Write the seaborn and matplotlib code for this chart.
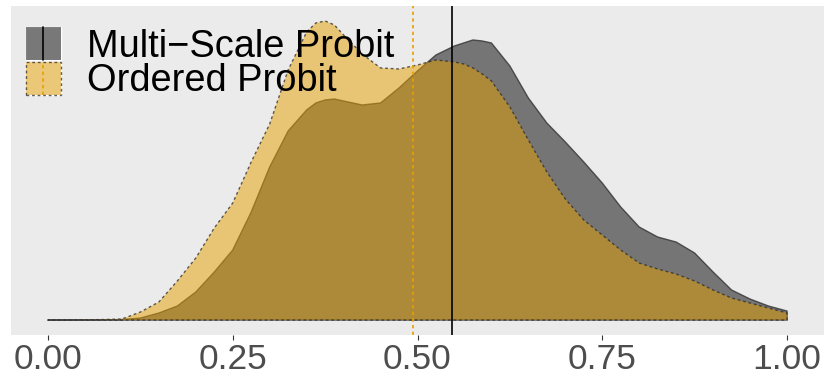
import numpy as np
import pandas as pd
import matplotlib
matplotlib.use('Agg')
import matplotlib.pyplot as plt
from matplotlib.patches import Rectangle, Patch
from matplotlib.lines import Line2D
from matplotlib.legend_handler import HandlerBase
import seaborn as sns

sns.set_theme(style='dark')
plt.rcParams['font.family'] = ['Liberation Sans', 'DejaVu Sans']

# ── data
x_grid = [0.000, 0.025, 0.050, 0.075, 0.100, 0.125, 0.150, 0.175, 0.200, 0.225,
          0.250, 0.275, 0.300, 0.325, 0.350, 0.3625, 0.375, 0.3875, 0.400, 0.425,
          0.450, 0.475, 0.500, 0.525, 0.550, 0.5625, 0.575, 0.5875, 0.600, 0.625,
          0.650, 0.675, 0.700, 0.725, 0.750, 0.775, 0.800, 0.825, 0.850, 0.875,
          0.900, 0.925, 0.950, 0.975, 1.000]
ms_density = [0.00, 0.00, 0.00, 0.002, 0.005, 0.02, 0.07, 0.14, 0.28, 0.48,
              0.70, 1.08, 1.53, 1.89, 2.10, 2.17, 2.20, 2.21, 2.19, 2.15,
              2.17, 2.32, 2.49, 2.65, 2.74, 2.77, 2.80, 2.79, 2.77, 2.54,
              2.22, 1.97, 1.78, 1.58, 1.37, 1.13, 0.93, 0.83, 0.78, 0.67,
              0.48, 0.30, 0.21, 0.14, 0.09]
op_density = [0.00, 0.00, 0.002, 0.005, 0.01, 0.08, 0.18, 0.39, 0.62, 0.92,
              1.17, 1.58, 1.96, 2.50, 2.88, 2.97, 2.99, 2.95, 2.85, 2.66,
              2.52, 2.51, 2.55, 2.60, 2.58, 2.56, 2.52, 2.46, 2.39, 2.13,
              1.80, 1.48, 1.21, 1.00, 0.85, 0.70, 0.57, 0.51, 0.46, 0.39,
              0.30, 0.22, 0.17, 0.12, 0.07]
models     = ['Multi\u2212Scale Probit', 'Ordered Probit']
model_mean = [0.547, 0.4935]
x_ticks    = [0.00, 0.25, 0.50, 0.75, 1.00]
x_labels   = ['0.00', '0.25', '0.50', '0.75', '1.00']

df = pd.DataFrame({
    'x': x_grid * 2,
    'density': ms_density + op_density,
    'model': [models[0]] * len(x_grid) + [models[1]] * len(x_grid),
})

FILL   = {models[0]: 'black', models[1]: '#E69F00'}
LINE   = {models[0]: '-', models[1]: (0, (2, 2))}
VLINE  = {models[0]: 'black', models[1]: '#E69F00'}
VSTYLE = {models[0]: '-', models[1]: (0, (2, 2))}
BG = '#EBEBEB'

fig = plt.figure(figsize=(8.3, 3.8), dpi=100)
ax = fig.add_axes([11 / 830, 1 - 335 / 380, 813 / 830, 329 / 380])
ax.set_facecolor(BG)

# ── densities (fill + full outline, ggplot style)
for m in models:
    sub = df[df['model'] == m]
    ax.fill_between(sub['x'], 0, sub['density'], facecolor=FILL[m], alpha=0.5,
                    edgecolor='none', zorder=2)
    ax.fill_between(sub['x'], 0, sub['density'], facecolor='none',
                    edgecolor='#2b2b2b', linestyle=LINE[m], linewidth=1.0,
                    alpha=0.75, zorder=2)

# ── mean lines
for m, mu in zip(models, model_mean):
    ax.axvline(mu, color=VLINE[m], linestyle=VSTYLE[m], linewidth=1.2, zorder=3)

ymax = df['density'].max()
ax.set_xlim(-0.05, 1.05)
ax.set_ylim(-0.05 * ymax, 1.05 * ymax)
ax.set_xticks(x_ticks)
ax.set_xticklabels(x_labels, fontsize=25.5, color='#4D4D4D')
ax.tick_params(axis='x', length=3.5, width=0.8, color='#333333', pad=2, bottom=True)
ax.set_yticks([])
ax.set_xlabel(''); ax.set_ylabel('')
ax.grid(False)
sns.despine(ax=ax, left=True, bottom=True)


# ── legend keys: filled box with the mean line through it
class KeyHandler(HandlerBase):
    def __init__(self, model):
        super().__init__()
        self.model = model

    def create_artists(self, legend, orig_handle, xdescent, ydescent,
                       width, height, fontsize, trans):
        x0, y0 = -xdescent, -ydescent
        bg = Rectangle((x0, y0), width, height, facecolor='#F2F2F2',
                       edgecolor='white', linewidth=1.0, transform=trans)
        box = Rectangle((x0, y0), width, height, facecolor=FILL[self.model],
                        alpha=0.5, edgecolor='none', transform=trans)
        edge = Rectangle((x0, y0), width, height, facecolor='none',
                         edgecolor='#2b2b2b' if self.model == models[1] else 'none',
                         linestyle=LINE[self.model], linewidth=1.0, alpha=0.75,
                         transform=trans)
        line = Line2D([x0 + width / 2] * 2, [y0, y0 + height], color=VLINE[self.model],
                      linestyle=VSTYLE[self.model], linewidth=1.2, transform=trans)
        return [bg, box, edge, line]


handles = [Patch(label=m) for m in models]
leg = ax.legend(handles=handles, labels=models,
                handler_map={h: KeyHandler(m) for h, m in zip(handles, models)},
                loc='upper left', bbox_to_anchor=(0.018, 0.936), frameon=False,
                fontsize=27.4, handlelength=0.92, handleheight=0.95,
                handletextpad=0.70, labelspacing=-0.07, borderpad=0, borderaxespad=0)
for t in leg.get_texts():
    t.set_color('black')

fig.savefig('out.png', dpi=100)
